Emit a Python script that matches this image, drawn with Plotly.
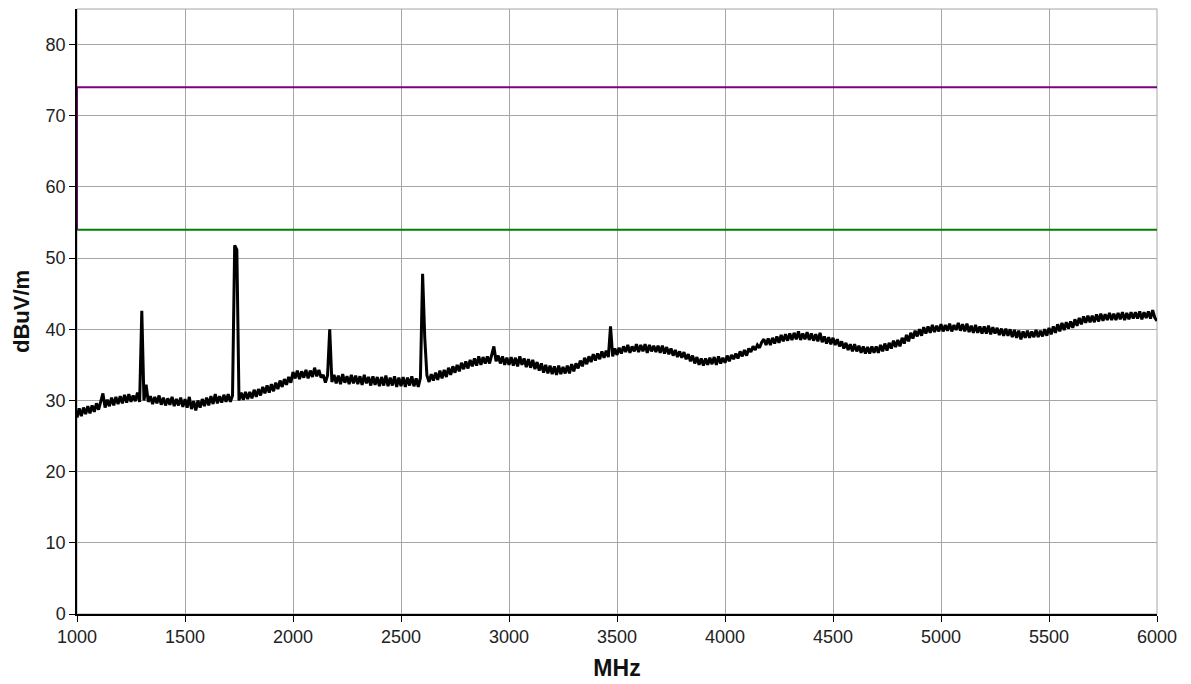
import plotly.graph_objects as go

freq_start = 1000
freq_step = 10
level_rows = [
    [27.6, 28.9, 27.8, 29.0, 28.1, 29.2, 28.2, 29.3, 28.4, 29.6],  # 1000
    [28.7, 29.8, 31.0, 29.0, 30.1, 29.2, 30.4, 29.3, 30.5, 29.5],  # 1100
    [30.6, 29.6, 30.8, 29.7, 30.9, 29.8, 30.7, 29.9, 31.1, 29.8],  # 1200
    [42.6, 30.0, 32.2, 29.8, 30.6, 29.5, 30.5, 29.6, 30.7, 29.4],  # 1300
    [30.4, 29.3, 30.3, 29.4, 30.5, 29.2, 30.2, 29.3, 30.4, 29.1],  # 1400
    [30.2, 29.0, 30.5, 28.8, 29.9, 28.6, 30.0, 29.0, 30.2, 29.2],  # 1500
    [30.4, 29.3, 30.6, 29.5, 30.9, 29.6, 30.6, 29.7, 30.8, 29.8],  # 1600
    [30.9, 29.8, 30.7, 51.8, 51.2, 30.0, 31.1, 30.1, 31.2, 30.2],  # 1700
    [31.2, 30.3, 31.5, 30.5, 31.6, 30.7, 31.9, 31.0, 32.1, 31.1],  # 1800
    [32.3, 31.3, 32.5, 31.6, 32.8, 31.9, 33.0, 32.2, 33.3, 32.5],  # 1900
    [34.0, 33.1, 34.2, 33.0, 34.1, 33.2, 34.3, 33.1, 34.2, 33.3],  # 2000
    [34.6, 33.4, 34.3, 33.2, 33.6, 32.5, 33.5, 40.0, 32.6, 33.6],  # 2100
    [32.4, 33.5, 32.3, 33.7, 32.5, 33.4, 32.3, 33.6, 32.4, 33.5],  # 2200
    [32.3, 33.4, 32.2, 33.6, 32.4, 33.3, 32.1, 33.4, 32.2, 33.3],  # 2300
    [32.0, 33.3, 32.1, 33.5, 32.0, 33.2, 32.1, 33.4, 31.9, 33.2],  # 2400
    [32.0, 33.3, 31.9, 33.2, 32.1, 33.4, 32.0, 33.1, 31.9, 33.2],  # 2500
    [47.8, 38.8, 33.5, 32.6, 33.7, 32.8, 33.9, 32.9, 34.2, 33.1],  # 2600
    [34.3, 33.3, 34.6, 33.6, 34.8, 33.9, 35.0, 34.1, 35.3, 34.4],  # 2700
    [35.5, 34.5, 35.7, 34.8, 35.9, 34.9, 36.2, 35.0, 36.1, 35.2],  # 2800
    [36.2, 35.2, 36.3, 37.6, 35.5, 36.3, 35.2, 36.2, 35.0, 36.0],  # 2900
    [35.0, 36.1, 34.9, 36.0, 34.8, 36.2, 35.0, 35.9, 34.7, 35.8],  # 3000
    [34.6, 35.7, 34.4, 35.4, 34.2, 35.2, 33.9, 35.0, 33.8, 34.9],  # 3100
    [33.7, 34.8, 33.6, 34.9, 33.7, 34.7, 33.8, 34.9, 33.8, 35.1],  # 3200
    [34.1, 35.2, 34.5, 35.6, 34.8, 36.0, 35.1, 36.2, 35.4, 36.5],  # 3300
    [35.6, 36.6, 35.8, 36.9, 36.0, 37.0, 36.1, 40.4, 36.2, 37.3],  # 3400
    [36.4, 37.4, 36.6, 37.6, 36.8, 37.8, 36.7, 37.6, 36.9, 37.9],  # 3500
    [36.8, 37.8, 36.9, 37.9, 36.7, 37.8, 36.9, 37.7, 36.8, 37.7],  # 3600
    [36.7, 37.7, 36.6, 37.5, 36.5, 37.3, 36.3, 37.1, 36.1, 36.9],  # 3700
    [36.0, 36.8, 35.8, 36.5, 35.5, 36.3, 35.2, 36.1, 35.0, 35.9],  # 3800
    [34.9, 35.9, 35.0, 36.0, 35.1, 36.1, 35.0, 36.2, 35.2, 36.0],  # 3900
    [35.3, 36.3, 35.5, 36.4, 35.8, 36.6, 35.9, 36.9, 36.2, 37.1],  # 4000
    [36.3, 37.3, 36.8, 37.6, 37.1, 37.8, 37.4, 38.2, 38.6, 37.8],  # 4100
    [38.7, 37.8, 38.8, 38.0, 39.0, 38.1, 39.2, 38.3, 39.3, 38.4],  # 4200
    [39.4, 38.5, 39.5, 38.6, 39.7, 38.5, 39.4, 38.6, 39.6, 38.5],  # 4300
    [39.4, 38.4, 39.3, 38.3, 39.5, 38.2, 39.0, 38.0, 38.9, 37.9],  # 4400
    [38.8, 37.8, 38.6, 37.6, 38.3, 37.3, 38.1, 37.1, 37.9, 36.9],  # 4500
    [37.9, 36.9, 37.7, 36.7, 37.6, 36.6, 37.5, 36.6, 37.6, 36.7],  # 4600
    [37.6, 36.7, 37.8, 36.9, 38.0, 37.0, 38.1, 37.3, 38.4, 37.5],  # 4700
    [38.5, 37.6, 38.8, 38.0, 39.2, 38.3, 39.5, 38.7, 39.8, 39.0],  # 4800
    [40.0, 39.1, 40.3, 39.4, 40.4, 39.5, 40.6, 39.6, 40.5, 39.7],  # 4900
    [40.7, 39.7, 40.6, 39.8, 40.8, 39.7, 40.6, 39.9, 40.9, 39.8],  # 5000
    [40.7, 39.7, 40.8, 39.6, 40.5, 39.5, 40.6, 39.5, 40.4, 39.4],  # 5100
    [40.4, 39.4, 40.5, 39.3, 40.3, 39.4, 40.2, 39.2, 40.1, 39.1],  # 5200
    [40.1, 39.1, 40.0, 38.9, 39.9, 38.8, 39.8, 38.6, 39.7, 38.8],  # 5300
    [39.8, 38.8, 39.7, 38.9, 39.9, 38.9, 39.8, 39.0, 40.0, 39.1],  # 5400
    [40.2, 39.3, 40.4, 39.5, 40.7, 39.7, 40.9, 39.9, 41.0, 40.1],  # 5500
    [41.1, 40.2, 41.4, 40.5, 41.6, 40.7, 41.8, 40.9, 41.9, 41.0],  # 5600
    [41.9, 41.0, 42.1, 41.1, 42.2, 41.2, 42.1, 41.3, 42.3, 41.3],  # 5700
    [42.2, 41.3, 42.3, 41.4, 42.4, 41.3, 42.3, 41.4, 42.4, 41.5],  # 5800
    [42.4, 41.5, 42.5, 41.4, 42.4, 41.6, 42.5, 41.5, 42.7, 41.6],  # 5900
    [41.2],                                                        # 6000
]

# Limit lines
peak_limit_x = [1000, 1000, 6000]
peak_limit_y = [54, 74, 74]
avg_limit_x = [1000, 6000]
avg_limit_y = [54, 54]

x_ticks = [1000, 1500, 2000, 2500, 3000, 3500, 4000, 4500, 5000, 5500, 6000]
y_ticks = [0, 10, 20, 30, 40, 50, 60, 70, 80]

levels = [v for row in level_rows for v in row]
freqs = [freq_start + i * freq_step for i in range(len(levels))]

fig = go.Figure()
fig.add_trace(go.Scatter(x=freqs, y=levels, mode="lines",
                         line=dict(color="black", width=3), showlegend=False))
fig.add_trace(go.Scatter(x=avg_limit_x, y=avg_limit_y, mode="lines",
                         line=dict(color="#008000", width=2), showlegend=False))
fig.add_trace(go.Scatter(x=peak_limit_x, y=peak_limit_y, mode="lines",
                         line=dict(color="#800080", width=2), showlegend=False))

font_family = "Liberation Sans, Arial, sans-serif"
fig.update_layout(
    width=1191, height=684,
    margin=dict(l=77, r=34, t=9, b=70),
    paper_bgcolor="white", plot_bgcolor="white",
    font=dict(family=font_family, size=18, color="#222222"),
    xaxis=dict(range=[1000, 6000], tickvals=x_ticks, ticktext=[str(t) for t in x_ticks],
               showgrid=True, gridcolor="#a6a6a6", gridwidth=1,
               showline=True, linecolor="black", linewidth=1.5,
               ticks="outside", ticklen=6, tickcolor="black",
               zeroline=False, automargin=False,
               title=dict(text="<b>MHz</b>", font=dict(size=23, color="#111111"), standoff=14)),
    yaxis=dict(range=[0, 85], tickvals=y_ticks, ticktext=[str(t) for t in y_ticks],
               showgrid=True, gridcolor="#a6a6a6", gridwidth=1,
               showline=True, linecolor="black", linewidth=1.5,
               ticks="outside", ticklen=6, tickcolor="black",
               zeroline=False, automargin=False,
               title=dict(text="<b>dBuV/m</b>", font=dict(size=22, color="#111111"), standoff=10)),
    shapes=[dict(type="rect", xref="paper", yref="paper", x0=0, x1=1, y0=0, y1=1,
                 line=dict(color="#a6a6a6", width=1), layer="below")],
)

fig.write_html("out.html")
